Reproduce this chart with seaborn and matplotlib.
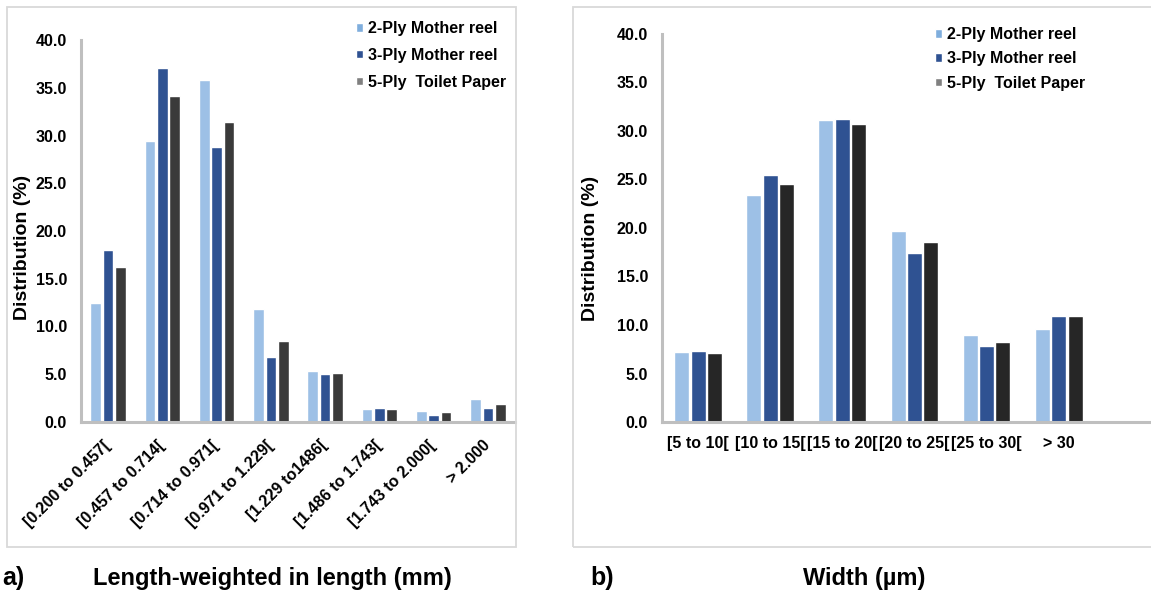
import numpy as np
import pandas as pd
import matplotlib.pyplot as plt
import seaborn as sns
from matplotlib.patches import Rectangle

# data
series = ["2-Ply Mother reel", "3-Ply Mother reel", "5-Ply  Toilet Paper"]

length_bins = ["[0.200 to 0.457[", "[0.457 to 0.714[", "[0.714 to 0.971[",
               "[0.971 to 1.229[", "[1.229 to1486[", "[1.486 to 1.743[",
               "[1.743 to 2.000[", "> 2.000"]
length_2ply = [12.5, 29.4, 35.8, 11.8, 5.3, 1.4, 1.1, 2.4]
length_3ply = [18.0, 37.1, 28.8, 6.8, 5.0, 1.5, 0.7, 1.5]
length_5ply = [16.2, 34.1, 31.4, 8.5, 5.1, 1.4, 1.0, 1.9]

width_bins = ["[5 to 10[", "[10 to 15[", "[15 to 20[", "[20 to 25[",
              "[25 to 30[", "> 30"]
width_2ply = [7.2, 23.4, 31.1, 19.7, 9.0, 9.6]
width_3ply = [7.3, 25.4, 31.2, 17.4, 7.9, 10.9]
width_5ply = [7.1, 24.5, 30.7, 18.6, 8.3, 10.9]


def to_long(bins, s2, s3, s5):
    rows = []
    for name, vals in zip(series, [s2, s3, s5]):
        for b, v in zip(bins, vals):
            rows.append({"bin": b, "series": name, "pct": v})
    return pd.DataFrame(rows)


df_len = to_long(length_bins, length_2ply, length_3ply, length_5ply)
df_wid = to_long(width_bins, width_2ply, width_3ply, width_5ply)

sns.set_style("white")
plt.rcParams["font.family"] = ["Liberation Sans", "DejaVu Sans"]
plt.rcParams["font.weight"] = "bold"
for k in ["text.color", "axes.labelcolor", "xtick.color", "ytick.color"]:
    plt.rcParams[k] = "black"

W, H = 1151, 595
fig = plt.figure(figsize=(W / 100, H / 100), dpi=100)

# panel frames (Excel chart areas)
fig.patches.append(Rectangle((7 / W, 1 - 547 / H), 509 / W, 540 / H,
                             transform=fig.transFigure, fill=False,
                             edgecolor="#D9D9D9", linewidth=1.3))
fig.patches.append(Rectangle((573 / W, 1 - 547 / H), 600 / W, 540 / H,
                             transform=fig.transFigure, fill=False,
                             edgecolor="#D9D9D9", linewidth=1.3))

ax1 = fig.add_axes([81 / W, 1 - 422 / H, 434 / W, 382 / H])
ax2 = fig.add_axes([662 / W, 1 - 422.3 / H, 489 / W, 388.8 / H])

pal1 = ["#9DC0E6", "#2F5292", "#3A3A3A"]
pal2 = ["#9DC0E6", "#2F5292", "#262626"]

sns.barplot(data=df_len, x="bin", y="pct", hue="series", palette=pal1,
            width=0.68, gap=0.13, saturation=1, ax=ax1)
sns.barplot(data=df_wid, x="bin", y="pct", hue="series", palette=pal2,
            width=0.68, gap=0.08, saturation=1, ax=ax2)

for ax in (ax1, ax2):
    ax.set_ylim(0, 40)
    ax.set_yticks(np.arange(0, 40.1, 5))
    ax.set_yticklabels([f"{v:.1f}" for v in np.arange(0, 40.1, 5)])
    ax.set_xlabel("")
    ax.set_ylabel("Distribution (%)", fontsize=14, fontweight="bold")
    ax.tick_params(length=0, labelsize=11.5, pad=10)
    for s in ["top", "right"]:
        ax.spines[s].set_visible(False)
    for s in ["left", "bottom"]:
        ax.spines[s].set_color("#BFBFBF")
        ax.spines[s].set_linewidth(2.2)
    for lab in ax.get_yticklabels() + ax.get_xticklabels():
        lab.set_fontweight("bold")

ax1.set_xlim(-0.5, 7.5)
ax2.set_xlim(-0.5, 6.28)
ax1.yaxis.set_label_coords(-0.115, 0.458)
ax2.yaxis.set_label_coords(-0.129, 0.446)

ax1.tick_params(axis="x", pad=15)
plt.setp(ax1.get_xticklabels(), rotation=45, ha="right", va="center",
         rotation_mode="anchor")
ax2.tick_params(axis="x", pad=10)

for ax, x0, y0, sp in [(ax1, 356, 21, 0.74), (ax2, 935, 27, 0.59)]:
    leg = ax.legend(loc="upper left", bbox_to_anchor=(x0 / W, 1 - y0 / H),
                    bbox_transform=fig.transFigure, frameon=False,
                    borderpad=0, borderaxespad=0, handlelength=0.45,
                    handleheight=0.45, handletextpad=0.3, labelspacing=sp,
                    prop={"size": 11.5, "weight": "bold"})
    leg.legend_handles[0].set_facecolor("#7FAEDD")
    leg.legend_handles[2].set_facecolor("#808080")

fig.text(2 / W, 1 - 578 / H, "a)", fontsize=18, fontweight="bold",
         ha="left", va="center")
fig.text(272 / W, 1 - 578 / H, "Length-weighted in length (mm)", fontsize=17,
         fontweight="bold", ha="center", va="center")
fig.text(590 / W, 1 - 578 / H, "b)", fontsize=18, fontweight="bold",
         ha="left", va="center")
fig.text(864 / W, 1 - 578 / H, "Width (µm)", fontsize=17,
         fontweight="bold", ha="center", va="center")

fig.savefig("out.png", dpi=100)
